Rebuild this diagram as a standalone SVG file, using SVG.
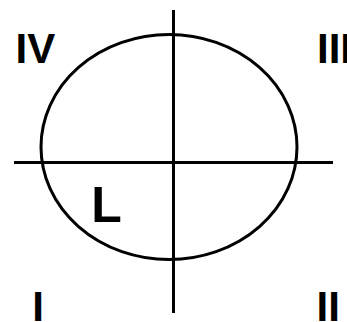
<svg xmlns="http://www.w3.org/2000/svg" width="347" height="322" viewBox="0 0 347 322">
<style>
.ln{stroke:#000;stroke-width:3;fill:none}
.lb{font-family:"Liberation Sans",Arial,sans-serif;font-weight:bold;fill:#000}
</style>
<rect width="347" height="322" fill="#fff"/>
<g id="ellipse"><ellipse class="ln" cx="169" cy="147" rx="128" ry="112.5"/></g>
<g id="axes">
<line class="ln" x1="173.5" y1="10" x2="173.5" y2="313"/>
<line class="ln" x1="14" y1="162.5" x2="333" y2="162.5"/>
</g>
<g id="labels">
<text class="lb" x="15.5" y="63" font-size="42">IV</text>
<text class="lb" x="317" y="63" font-size="42">III</text>
<text class="lb" x="32.3" y="320.5" font-size="42">I</text>
<text class="lb" x="316.6" y="320.5" font-size="42">II</text>
<text class="lb" x="91.3" y="221.7" font-size="50">L</text>
</g>
</svg>
